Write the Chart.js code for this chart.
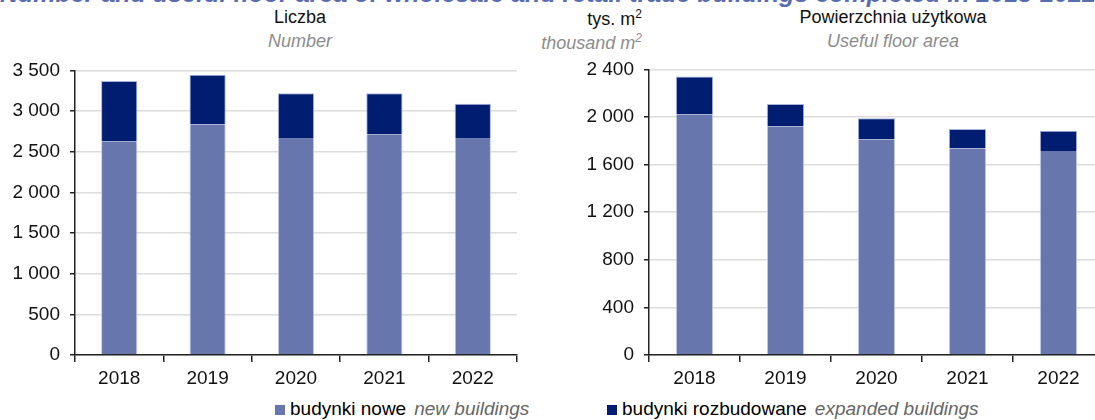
<!DOCTYPE html>
<html>
<head>
<meta charset="utf-8">
<script src="https://cdn.jsdelivr.net/npm/chart.js@4/dist/chart.umd.min.js"></script>
<style>
  html, body { margin: 0; padding: 0; background: #fff; }
  body { width: 1095px; height: 420px; position: relative; overflow: hidden; font-family: "Liberation Sans", Arial, sans-serif; }
  .box { position: absolute; }
  .head { position: absolute; white-space: nowrap; font-size: 18px; color: #111; text-align: center; }
  .sub { position: absolute; white-space: nowrap; font-size: 18px; font-style: italic; color: #8c8c8c; text-align: center; }
  sup { font-size: 12px; }
  #title { position: absolute; left: 0; top: -21px; white-space: nowrap; font-size: 25px; font-style: italic; font-weight: bold; color: #5a6cb0; }
  #legend { position: absolute; top: 398px; left: 0; width: 1095px; font-size: 19px; white-space: nowrap; }
  .item { position: absolute; }
  .sw { display: inline-block; width: 10px; height: 10px; margin-right: 5px; }
  .en { font-style: italic; color: #666; margin-left: 8px; }
</style>
</head>
<body>
<div id="title">Number and useful floor area of wholesale and retail trade buildings completed in 2018-2022</div>

<div class="head" style="left:200px; width:200px; top:7px;">Liczba</div>
<div class="sub" style="left:200px; width:200px; top:31px;">Number</div>
<div class="head" style="left:442px; width:200px; top:7px; text-align:right;">tys. m<sup>2</sup></div>
<div class="sub" style="left:442px; width:200px; top:31px; text-align:right;">thousand m<sup>2</sup></div>
<div class="head" style="left:743px; width:300px; top:7px;">Powierzchnia użytkowa</div>
<div class="sub" style="left:743px; width:300px; top:31px;">Useful floor area</div>

<div class="box" style="left:0; top:49px; width:540px; height:346px;"><canvas id="count-chart"></canvas></div>
<div class="box" style="left:560px; top:48px; width:560px; height:347px;"><canvas id="area-chart"></canvas></div>

<div id="legend">
  <span class="item" style="left:275px;"><span class="sw" style="background:#6777ad"></span>budynki nowe<span class="en">new buildings</span></span>
  <span class="item" style="left:607px;"><span class="sw" style="background:#001d72"></span>budynki rozbudowane<span class="en">expanded buildings</span></span>
</div>

<script>
const years = ['2018', '2019', '2020', '2021', '2022'];

// number of buildings
const countNew = [2630, 2835, 2660, 2715, 2660];
const countExpanded = [740, 610, 560, 505, 430];

// useful floor area, thousand m2
const areaNew = [2020, 1920, 1810, 1735, 1715];
const areaExpanded = [320, 190, 180, 165, 170];

const countTicks = { max: 3500, step: 500 };
const areaTicks = { max: 2400, step: 400 };

const lightBlue = '#6777ad';
const darkBlue = '#001d72';

const fmt = v => String(v).replace(/\B(?=(\d{3})+(?!\d))/g, ' ');

const makeChart = (id, newVals, expVals, ticks, yWidth, padRight) => {
    let ctx = document.getElementById(id);
    new Chart(ctx, {
        type: 'bar',
        data: {
            labels: years,
            datasets: [{
                label: 'budynki nowe',
                data: newVals,
                backgroundColor: lightBlue,
                borderColor: 'rgba(190, 200, 232, 0.9)',
                borderWidth: { left: 1, right: 1, top: 0, bottom: 0 },
                borderSkipped: false,
            }, {
                label: 'budynki rozbudowane',
                data: expVals,
                backgroundColor: darkBlue,
                borderColor: 'rgba(160, 172, 215, 0.9)',
                borderWidth: { left: 1, right: 1, top: 1, bottom: 0 },
                borderSkipped: false,
            }]
        },
        options: {
            responsive: true,
            maintainAspectRatio: false,
            animation: false,
            layout: { padding: { top: 0, right: padRight, left: 0, bottom: 0 } },
            plugins: {
                legend: { display: false },
                tooltip: { enabled: false }
            },
            datasets: {
                bar: { categoryPercentage: 1, barPercentage: 0.41 }
            },
            scales: {
                x: {
                    stacked: true,
                    afterFit: scale => { scale.height = 40; },
                    border: { color: '#222', width: 1.5 },
                    grid: {
                        drawOnChartArea: false,
                        drawTicks: true,
                        tickLength: 7,
                        tickColor: '#222',
                        lineWidth: 1.5
                    },
                    ticks: {
                        color: '#111',
                        padding: 5,
                        font: { size: 19, family: 'Liberation Sans' }
                    }
                },
                y: {
                    stacked: true,
                    min: 0,
                    max: ticks.max,
                    afterFit: scale => { scale.width = yWidth; },
                    border: { color: '#222', width: 1.5 },
                    grid: {
                        color: '#dcdcdc',
                        lineWidth: 1.5,
                        tickLength: 5,
                        tickColor: '#222'
                    },
                    ticks: {
                        stepSize: ticks.step,
                        color: '#111',
                        padding: 10,
                        callback: v => fmt(v),
                        font: { size: 19, family: 'Liberation Sans' }
                    }
                }
            }
        }
    });
};

document.addEventListener('DOMContentLoaded', () => {
    makeChart('count-chart', countNew, countExpanded, countTicks, 75, 23);
    makeChart('area-chart', areaNew, areaExpanded, areaTicks, 89, 16);
});
</script>
</body>
</html>
